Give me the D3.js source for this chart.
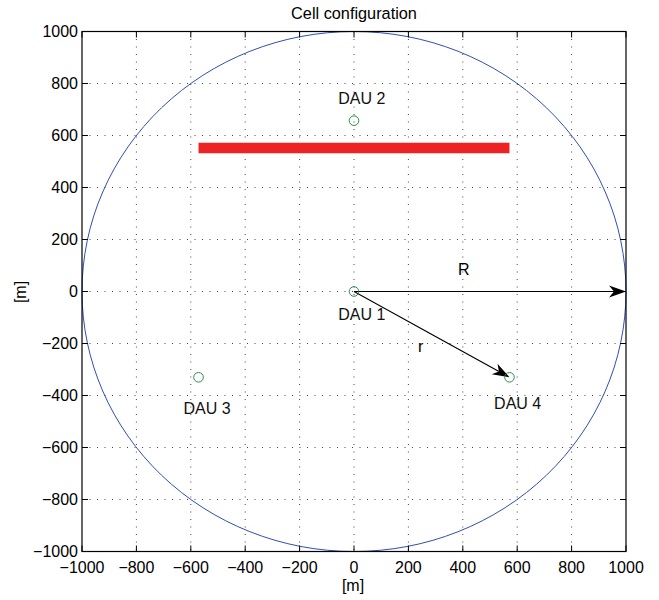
<!DOCTYPE html>
<html><head><meta charset="utf-8">
<script src="https://cdn.jsdelivr.net/npm/d3@7"></script>
<style>body{margin:0;background:#fff}svg{display:block}text{font-family:"Liberation Sans",Arial,Helvetica,sans-serif}</style>
</head><body>
<svg id="c" width="659" height="600"></svg>
<script>
const title = "Cell configuration";
const xLabel = "[m]", yLabel = "[m]";
const xTicks = [-1000,-800,-600,-400,-200,0,200,400,600,800,1000];
const yTicks = [-1000,-800,-600,-400,-200,0,200,400,600,800,1000];
const cellRadius = 1000;
const dauNames = ["DAU 1","DAU 2","DAU 3","DAU 4"];
const dauX = [0, 0, -571.6, 571.6];
const dauY = [0, 657, -330, -330];
const dauLabelX = [-58, -58, -627, 515];
const dauLabelY = [-109, 723, -471, -452];
const barX = [-571.6, 571.6];
const barY = [552, 552];
const arrowNames = ["R","r"];
const arrowFromX = [0, 0], arrowFromY = [0, 0];
const arrowToX = [1000, 571.6], arrowToY = [0, -330];
const arrowLabelX = [404, 245], arrowLabelY = [64, -231];

const svg = d3.select("#c");
const L = 82, R = 626, T = 31.5, B = 551.5;
const x = d3.scaleLinear().domain([-1000,1000]).range([L,R]);
const y = d3.scaleLinear().domain([-1000,1000]).range([B,T]);

// grid
const g = svg.append("g");
g.selectAll("line.gx").data(xTicks.slice(1,-1)).join("line")
  .attr("x1",d=>x(d)).attr("x2",d=>x(d)).attr("y1",T).attr("y2",B)
  .attr("stroke","#444").attr("stroke-width",1).attr("stroke-dasharray","1,6.5");
g.selectAll("line.gy").data(yTicks.slice(1,-1)).join("line")
  .attr("y1",d=>y(d)).attr("y2",d=>y(d)).attr("x1",L).attr("x2",R)
  .attr("stroke","#444").attr("stroke-width",1).attr("stroke-dasharray","1,6.5");

// cell circle
svg.append("ellipse").attr("cx",x(0)).attr("cy",y(0))
  .attr("rx",x(cellRadius)-x(0)).attr("ry",y(0)-y(cellRadius))
  .attr("fill","none").attr("stroke","#2f4fb3").attr("stroke-width",1);

// red bar
svg.append("line").attr("x1",x(barX[0])).attr("x2",x(barX[1]))
  .attr("y1",y(barY[0])).attr("y2",y(barY[1]))
  .attr("stroke","#ee2222").attr("stroke-width",10.5);

// arrows
function arrow(x1,y1,x2,y2){
  const dx=x2-x1, dy=y2-y1, len=Math.hypot(dx,dy), ux=dx/len, uy=dy/len, px=-uy, py=ux;
  const hl=17, hw=6, notch=12;
  svg.append("line").attr("x1",x1).attr("y1",y1).attr("x2",x2-ux*notch).attr("y2",y2-uy*notch)
    .attr("stroke","#000").attr("stroke-width",1.1);
  const pts=[[x2,y2],[x2-ux*hl+px*hw,y2-uy*hl+py*hw],[x2-ux*notch,y2-uy*notch],[x2-ux*hl-px*hw,y2-uy*hl-py*hw]];
  svg.append("path").attr("d","M"+pts.map(p=>p.join(",")).join("L")+"Z").attr("fill","#000");
}
arrowNames.forEach((n,i)=>{
  arrow(x(arrowFromX[i]),y(arrowFromY[i]),x(arrowToX[i]),y(arrowToY[i]));
  svg.append("text").attr("x",x(arrowLabelX[i])).attr("y",y(arrowLabelY[i]))
    .attr("text-anchor","middle").attr("font-size",16).text(n);
});

// DAU markers
dauNames.forEach((n,i)=>{
  svg.append("circle").attr("cx",x(dauX[i])).attr("cy",y(dauY[i])).attr("r",4.8)
    .attr("fill","none").attr("stroke","#2a8f4a").attr("stroke-width",1);
  svg.append("text").attr("x",x(dauLabelX[i])).attr("y",y(dauLabelY[i]))
    .attr("font-size",16).attr("fill","#111").text(n);
});

// box and ticks
svg.append("rect").attr("x",L).attr("y",T).attr("width",R-L).attr("height",B-T)
  .attr("fill","none").attr("stroke","#000").attr("stroke-width",1.2);
const tk=6;
xTicks.forEach(d=>{
  svg.append("line").attr("x1",x(d)).attr("x2",x(d)).attr("y1",B).attr("y2",B-tk).attr("stroke","#000");
  svg.append("line").attr("x1",x(d)).attr("x2",x(d)).attr("y1",T).attr("y2",T+tk).attr("stroke","#000");
});
yTicks.forEach(d=>{
  svg.append("line").attr("y1",y(d)).attr("y2",y(d)).attr("x1",L).attr("x2",L+tk).attr("stroke","#000");
  svg.append("line").attr("y1",y(d)).attr("y2",y(d)).attr("x1",R).attr("x2",R-tk).attr("stroke","#000");
});
const fmt = d=>d<0?"\u2212"+Math.abs(d):String(d);
svg.append("g").selectAll("text").data(xTicks).join("text")
  .attr("x",d=>x(d)).attr("y",572.5).attr("text-anchor","middle").attr("font-size",16).text(fmt);
svg.append("g").selectAll("text").data(yTicks).join("text")
  .attr("x",L-4).attr("y",d=>y(d)).attr("dy","0.35em").attr("text-anchor","end").attr("font-size",16).text(fmt);

svg.append("text").attr("x",(L+R)/2).attr("y",19).attr("text-anchor","middle").attr("font-size",16.3).text(title);
svg.append("text").attr("x",353).attr("y",591).attr("text-anchor","middle").attr("font-size",16).text(xLabel);
svg.append("text").attr("transform","translate(26,292) rotate(-90)").attr("text-anchor","middle").attr("font-size",16).text(yLabel);
</script>
</body></html>
